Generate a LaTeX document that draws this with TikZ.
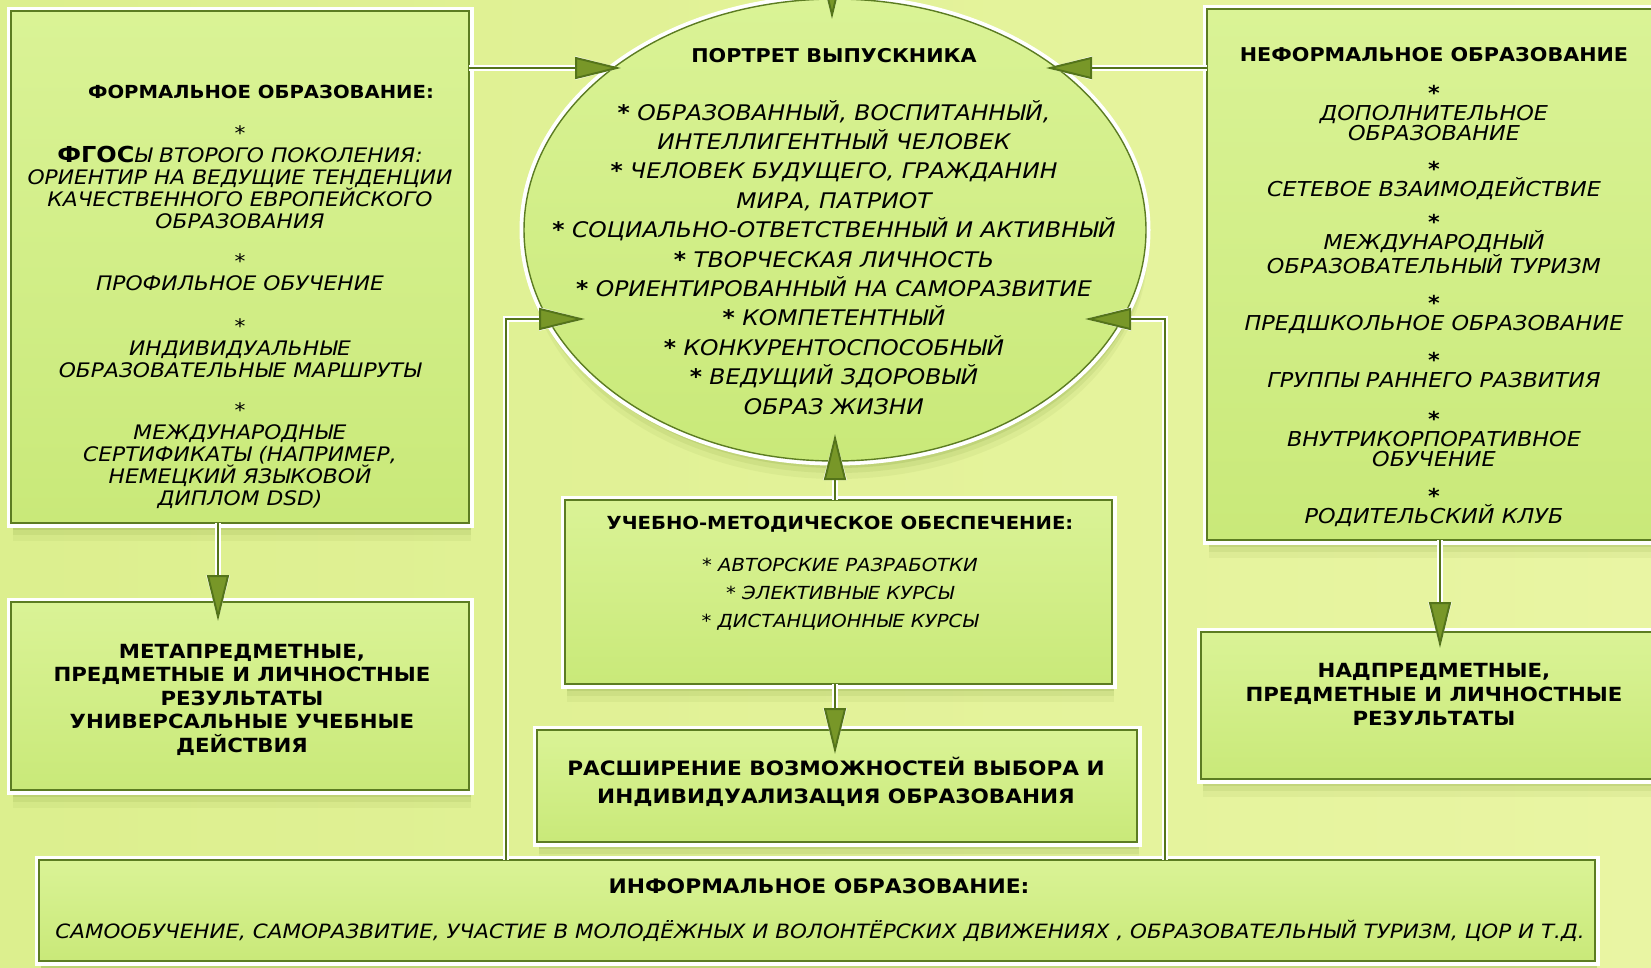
\documentclass[tikz,border=0pt]{standalone}
\usepackage{fontspec}
\setmainfont{DejaVu Sans}[FakeStretch=1.09]
\usetikzlibrary{arrows.meta,shadows,shapes.geometric,calc}
\definecolor{bgl}{HTML}{DCEF8E}
\definecolor{bgr}{HTML}{E9F5A3}
\definecolor{boxtop}{HTML}{DAF396}
\definecolor{boxbot}{HTML}{C9E979}
\definecolor{boxdark}{HTML}{5C7C22}
\definecolor{lined}{HTML}{54741A}
\definecolor{arrowc}{HTML}{789728}
\definecolor{shadowc}{HTML}{6E8C2C}
\newcommand{\fs}[2]{\fontsize{#1}{#2}\selectfont}
\begin{document}
\begin{tikzpicture}[x=1pt,y=-1pt,
  softshadow/.style={
    drop shadow={shadow xshift=2pt, shadow yshift=-18pt, fill=shadowc, opacity=.07},
    drop shadow={shadow xshift=2pt, shadow yshift=-12pt, fill=shadowc, opacity=.10},
    drop shadow={shadow xshift=2pt, shadow yshift=-7pt, fill=shadowc, opacity=.15}},
  box/.style={rectangle, inner sep=0pt, outer sep=0pt, softshadow,
    preaction={draw=white, line width=9pt},
    top color=boxtop, bottom color=boxbot, draw=boxdark, line width=1.4pt},
  ell/.style={ellipse, inner sep=0pt, outer sep=0pt, softshadow,
    preaction={draw=white, line width=9pt},
    top color=boxtop, bottom color=boxbot, draw=boxdark, line width=1.4pt},
  conn/.style={draw=lined, line width=2pt, preaction={draw=white, line width=6pt},
    -{Triangle[length=46pt,width=22pt,fill=arrowc]}},
  txt/.style={align=center, inner sep=0pt, anchor=base},
  bt/.style={txt, font=\bfseries\fs{#1}{24}},
  it/.style={txt, font=\itshape\fs{#1}{22}}
]
\useasboundingbox (0,0) rectangle (1651,967);
\clip (0,0) rectangle (1651,967);
\fill[left color=bgl, right color=bgr] (0,0) rectangle (1651,967);

% boxes
\node[box, minimum width=458pt, minimum height=512pt] (formal) at (240,267) {};
\node[box, minimum width=460pt, minimum height=531pt] (neformal) at (1437,274.5) {};
\node[box, minimum width=458pt, minimum height=188pt] (meta) at (240,696) {};
\node[box, minimum width=547pt, minimum height=184pt] (umo) at (838.5,592) {};
\node[box, minimum width=600pt, minimum height=112pt] (rassh) at (837,786) {};
\node[box, minimum width=466pt, minimum height=147pt] (nadpred) at (1434,705.5) {};
\node[box, minimum width=1556pt, minimum height=101pt] (inform) at (817,910.5) {};
\node[ell, minimum width=622pt, minimum height=462pt] (portret) at (835,230) {};

% connector end points
\coordinate (tipFP) at (621,68);
\coordinate (tipNP) at (1046,68);
\coordinate (tipFM) at (218,621);
\coordinate (tipNN) at (1440,648);
\coordinate (tipUP) at (835,434);
\coordinate (tipUR) at (835,754);
\coordinate (topS) at (832,-40);
\coordinate (tipTop) at (832,19);
\coordinate (corL) at (506,319);
\coordinate (tipIL) at (585,319);
\coordinate (corR) at (1165,319);
\coordinate (tipIR) at (1085,319);

\draw[conn] (formal.east |- tipFP) -- (tipFP);
\draw[conn] (neformal.west |- tipNP) -- (tipNP);
\draw[conn] (formal.south -| tipFM) -- (tipFM);
\draw[conn] (neformal.south -| tipNN) -- (tipNN);
\draw[conn] (umo.north -| tipUP) -- (tipUP);
\draw[conn] (umo.south -| tipUR) -- (tipUR);
\draw[conn] (topS) -- (tipTop);
\draw[conn] (inform.north -| corL) -- (corL) -- (tipIL);
\draw[conn] (inform.north -| corR) -- (corR) -- (tipIR);

% formal texts (anchor = baseline of last line)
\node[bt=18] (formalT) at (261,98) {ФОРМАЛЬНОЕ ОБРАЗОВАНИЕ:};
\node[it=20] (formal1) at (240,228) {*\\{\upshape\bfseries\fs{22}{22}ФГОС}Ы ВТОРОГО ПОКОЛЕНИЯ:\\ОРИЕНТИР НА ВЕДУЩИЕ ТЕНДЕНЦИИ\\КАЧЕСТВЕННОГО ЕВРОПЕЙСКОГО\\ОБРАЗОВАНИЯ};
\node[it=20] (formal2) at (240,290) {*\\ПРОФИЛЬНОЕ ОБУЧЕНИЕ};
\node[it=20] (formal3) at (240,377) {*\\ИНДИВИДУАЛЬНЫЕ\\ОБРАЗОВАТЕЛЬНЫЕ МАРШРУТЫ};
\node[it=20] (formal4) at (240,505) {*\\МЕЖДУНАРОДНЫЕ\\СЕРТИФИКАТЫ (НАПРИМЕР,\\НЕМЕЦКИЙ ЯЗЫКОВОЙ\\ДИПЛОМ DSD)};

% portret texts
\node[bt=19] (portretT) at (834,62) {ПОРТРЕТ ВЫПУСКНИКА};
\node[txt, font=\itshape\fs{21.5}{29.4}] (portretB) at (834,414) {\textbf{*} ОБРАЗОВАННЫЙ, ВОСПИТАННЫЙ,\\ИНТЕЛЛИГЕНТНЫЙ ЧЕЛОВЕК\\\textbf{*} ЧЕЛОВЕК БУДУЩЕГО, ГРАЖДАНИН\\МИРА, ПАТРИОТ\\\textbf{*} СОЦИАЛЬНО-ОТВЕТСТВЕННЫЙ И АКТИВНЫЙ\\\textbf{*} ТВОРЧЕСКАЯ ЛИЧНОСТЬ\\\textbf{*} ОРИЕНТИРОВАННЫЙ НА САМОРАЗВИТИЕ\\\textbf{*} КОМПЕТЕНТНЫЙ\\\textbf{*} КОНКУРЕНТОСПОСОБНЫЙ\\\textbf{*} ВЕДУЩИЙ ЗДОРОВЫЙ\\ОБРАЗ ЖИЗНИ};

% neformal texts
\node[bt=19] (neformalT) at (1434,61) {НЕФОРМАЛЬНОЕ ОБРАЗОВАНИЕ};
\node[txt, font=\itshape\fs{20.5}{20}] (nf1) at (1434,140) {\textbf{*}\\ДОПОЛНИТЕЛЬНОЕ\\ОБРАЗОВАНИЕ};
\node[txt, font=\itshape\fs{20.5}{20}] (nf2) at (1434,196) {\textbf{*}\\СЕТЕВОЕ ВЗАИМОДЕЙСТВИЕ};
\node[txt, font=\itshape\fs{20.5}{20}] (nf3) at (1434,273) {\textbf{*}\\МЕЖДУНАРОДНЫЙ\\ОБРАЗОВАТЕЛЬНЫЙ ТУРИЗМ};
\node[txt, font=\itshape\fs{20.5}{20}] (nf4) at (1434,330) {\textbf{*}\\ПРЕДШКОЛЬНОЕ ОБРАЗОВАНИЕ};
\node[txt, font=\itshape\fs{20.5}{20}] (nf5) at (1434,387) {\textbf{*}\\ГРУППЫ РАННЕГО РАЗВИТИЯ};
\node[txt, font=\itshape\fs{20.5}{20}] (nf6) at (1434,466) {\textbf{*}\\ВНУТРИКОРПОРАТИВНОЕ\\ОБУЧЕНИЕ};
\node[txt, font=\itshape\fs{20.5}{20}] (nf7) at (1434,523) {\textbf{*}\\РОДИТЕЛЬСКИЙ КЛУБ};

% meta
\node[txt, font=\bfseries\fs{19.5}{23.5}] (metaT) at (242,752) {МЕТАПРЕДМЕТНЫЕ,\\ПРЕДМЕТНЫЕ И ЛИЧНОСТНЫЕ\\РЕЗУЛЬТАТЫ\\УНИВЕРСАЛЬНЫЕ УЧЕБНЫЕ\\ДЕЙСТВИЯ};
% nadpred
\node[txt, font=\bfseries\fs{19.5}{24}] (nadpredT) at (1434,725) {НАДПРЕДМЕТНЫЕ,\\ПРЕДМЕТНЫЕ И ЛИЧНОСТНЫЕ\\РЕЗУЛЬТАТЫ};
% umo
\node[bt=18] (umoT) at (840,529) {УЧЕБНО-МЕТОДИЧЕСКОЕ ОБЕСПЕЧЕНИЕ:};
\node[txt, font=\itshape\fs{18}{28}] (umoB) at (840,627) {* АВТОРСКИЕ РАЗРАБОТКИ\\* ЭЛЕКТИВНЫЕ КУРСЫ\\* ДИСТАНЦИОННЫЕ КУРСЫ};
% rassh
\node[txt, font=\bfseries\fs{19.8}{28}] (rasshT) at (836,803) {РАСШИРЕНИЕ ВОЗМОЖНОСТЕЙ ВЫБОРА И\\ИНДИВИДУАЛИЗАЦИЯ ОБРАЗОВАНИЯ};
% informal
\node[bt=20] (informT) at (819,893) {ИНФОРМАЛЬНОЕ ОБРАЗОВАНИЕ:};
\node[it=19.7] (informB) at (820,938) {САМООБУЧЕНИЕ, САМОРАЗВИТИЕ, УЧАСТИЕ В МОЛОДЁЖНЫХ И ВОЛОНТЁРСКИХ ДВИЖЕНИЯХ , ОБРАЗОВАТЕЛЬНЫЙ ТУРИЗМ, ЦОР И Т.Д.};
\end{tikzpicture}
\end{document}
